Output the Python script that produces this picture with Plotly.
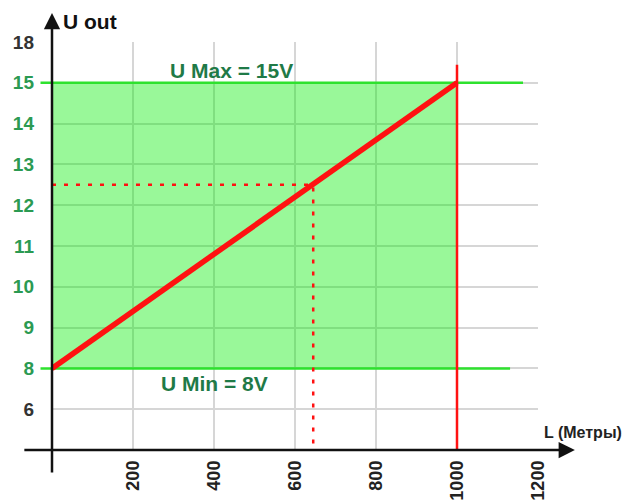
import plotly.graph_objects as go

# ---- data ----
u_min = 8
u_max = 15
l_max = 1000
l_point = 645
u_point = 12.5
line_x = [0, 1000]
line_y = [8, 15]
x_ticks = [200, 400, 600, 800, 1000, 1200]
x_tick_labels = ["200", "400", "600", "800", "1000", "1200"]
y_tick_pos = [7, 8, 9, 10, 11, 12, 13, 14, 15, 16]
y_tick_labels = ["6", "8", "9", "10", "11", "12", "13", "14", "15", "18"]

X_RANGE = [0, 1200]
Y_RANGE = [6, 16]

GREEN_TXT = "#2b9a52"
DARK_GREEN = "#1f7a47"
LEVEL_GREEN = "#2ee22e"
RED = "#ff1111"
FONT = "Liberation Sans, Arial, sans-serif"


def px(x):
    return (x - X_RANGE[0]) / (X_RANGE[1] - X_RANGE[0])


def py(y):
    return (y - Y_RANGE[0]) / (Y_RANGE[1] - Y_RANGE[0])


ytext = []
for v, lab in zip(y_tick_pos, y_tick_labels):
    if u_min <= v <= u_max:
        ytext.append(f'<span style="color:{GREEN_TXT}">{lab}</span>')
    else:
        ytext.append(lab)

fig = go.Figure()

# green zone
fig.add_trace(go.Scatter(x=[0, l_max, l_max, 0, 0], y=[u_min, u_min, u_max, u_max, u_min],
                         fill="toself", fillcolor="rgba(0,238,0,0.4)", mode="lines",
                         line=dict(width=0), hoverinfo="skip"))
# level lines
fig.add_trace(go.Scatter(x=[0, 1163], y=[u_max, u_max], mode="lines",
                         line=dict(color=LEVEL_GREEN, width=2.5), hoverinfo="skip"))
fig.add_trace(go.Scatter(x=[0, 1131], y=[u_min, u_min], mode="lines",
                         line=dict(color=LEVEL_GREEN, width=2.5), hoverinfo="skip"))
# dotted guides
fig.add_trace(go.Scatter(x=[0, l_point, l_point], y=[u_point, u_point, 6], mode="lines",
                         line=dict(color=RED, width=2.5, dash="4px,8px"), hoverinfo="skip"))
# vertical limit at 1000
fig.add_trace(go.Scatter(x=[l_max, l_max], y=[6, 15.44], mode="lines",
                         line=dict(color=RED, width=2.5), hoverinfo="skip"))
# main line
fig.add_trace(go.Scatter(x=line_x, y=line_y, mode="lines",
                         line=dict(color=RED, width=5.5), hoverinfo="skip"))

annotations = [
    # level line stubs left of axis
    dict(x=0, y=py(u_max), xref="paper", yref="paper", ax=-13, ay=0,
         showarrow=True, arrowhead=0, arrowwidth=2.5, arrowcolor=LEVEL_GREEN, text=""),
    dict(x=0, y=py(u_min), xref="paper", yref="paper", ax=-13, ay=0,
         showarrow=True, arrowhead=0, arrowwidth=2.5, arrowcolor=LEVEL_GREEN, text=""),
    # y axis with arrow
    dict(x=0, y=py(16.71), xref="paper", yref="paper", ax=0, ay=461,
         showarrow=True, arrowhead=2, arrowsize=1.3, arrowwidth=2.5, arrowcolor="#111111", text=""),
    # x axis with arrow
    dict(x=px(1291), y=0, xref="paper", yref="paper", ax=-552, ay=0,
         showarrow=True, arrowhead=2, arrowsize=1.3, arrowwidth=2.5, arrowcolor="#111111", text=""),
    # labels
    dict(x=px(442), y=py(15.31), xref="paper", yref="paper", text="<b>U Max = 15V</b>", showarrow=False,
         xanchor="center", yanchor="middle", font=dict(family=FONT, size=21, color=DARK_GREEN)),
    dict(x=px(402), y=py(7.64), xref="paper", yref="paper", text="<b>U Min = 8V</b>", showarrow=False,
         xanchor="center", yanchor="middle", font=dict(family=FONT, size=21, color=DARK_GREEN)),
    dict(x=px(22), y=py(16.5), xref="paper", yref="paper", text="<b>U out</b>", showarrow=False,
         xanchor="left", yanchor="middle", font=dict(family=FONT, size=21, color="#111111")),
    dict(x=px(1210), y=py(6.44), xref="paper", yref="paper", text="<b>L (Метры)</b>", showarrow=False,
         xanchor="left", yanchor="middle", font=dict(family=FONT, size=16, color="#222222")),
]

fig.update_layout(
    width=622, height=494,
    margin=dict(l=44, r=92, t=34, b=52),
    paper_bgcolor="white", plot_bgcolor="white",
    showlegend=False,
    annotations=annotations,
    font=dict(family=FONT),
    xaxis=dict(range=X_RANGE, tickvals=x_ticks, ticktext=x_tick_labels, tickangle=-90,
               showgrid=True, gridcolor="#d6d6d6", gridwidth=1.5, zeroline=False, showline=False,
               ticks="", ticklabelstandoff=6, automargin=False,
               tickfont=dict(family=FONT, size=18, color="#222222", weight="bold")),
    yaxis=dict(range=Y_RANGE, tickvals=y_tick_pos, ticktext=ytext,
               showgrid=True, gridcolor="#d6d6d6", gridwidth=1.5, zeroline=False, showline=False,
               ticks="", ticklabelstandoff=17, automargin=False,
               tickfont=dict(family=FONT, size=19, color="#333333", weight="bold")),
)

fig.write_html("out.html")
